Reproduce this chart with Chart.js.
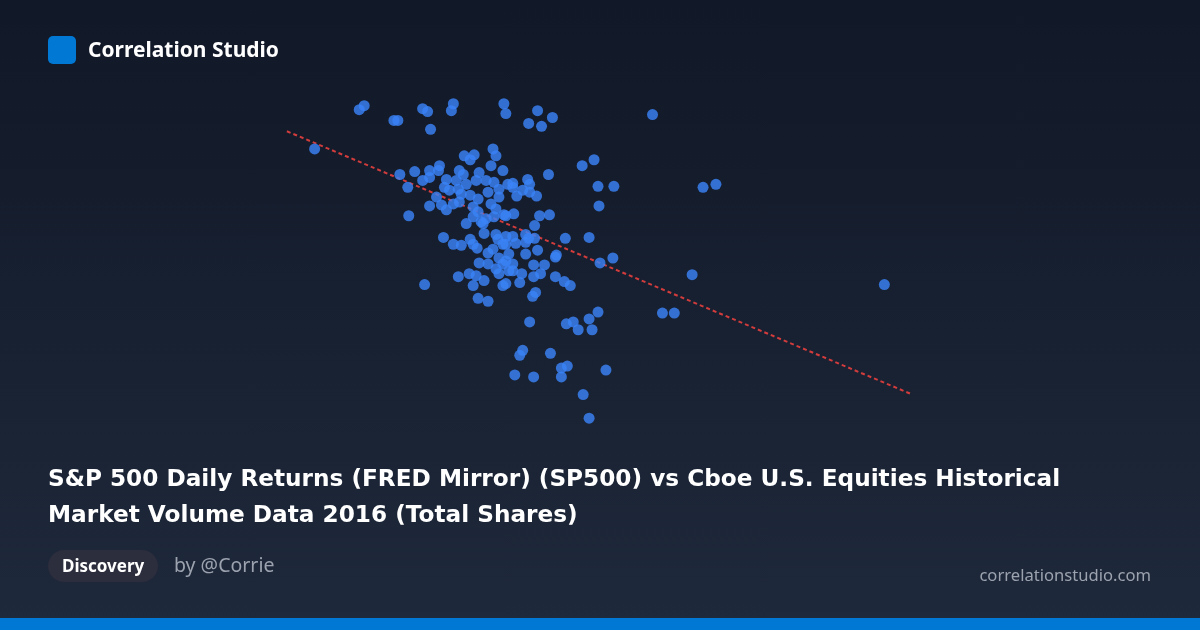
<!DOCTYPE html>
<html>
<head>
<meta charset="utf-8">
<script src="https://cdn.jsdelivr.net/npm/chart.js@4.4.1/dist/chart.umd.min.js"></script>
<style>
  html, body { margin: 0; padding: 0; }
  body {
    width: 1200px; height: 630px; overflow: hidden; position: relative;
    background: linear-gradient(180deg, #111827 0%, #1e293b 100%);
    font-family: "Noto Sans", "Open Sans", sans-serif;
  }
  #wrap { position: absolute; left: 0; top: 0; width: 1200px; height: 630px; z-index: 1; }
  .logo { position: absolute; left: 48px; top: 36px; width: 28px; height: 28px; border-radius: 5px; background: #0078d4; z-index: 2; }
  .brand { position: absolute; left: 88px; top: 34px; font-size: 21px; font-weight: 700; color: #ffffff; z-index: 2; line-height: 30px; }
  .title { position: absolute; left: 48px; top: 460px; width: 1100px; font-family: "DejaVu Sans", sans-serif; font-size: 23.2px; font-weight: 700; color: #ffffff; line-height: 36px; z-index: 2; }
  .pill { position: absolute; left: 48px; top: 550px; height: 32px; padding: 0 14px; border-radius: 16px; background: #2c2d3d; color: #fff; font-size: 17px; font-weight: 700; line-height: 32px; z-index: 2; }
  .by { position: absolute; left: 174px; top: 551px; font-size: 19.5px; color: #9ca3af; line-height: 28px; z-index: 2; }
  .site { position: absolute; right: 49px; top: 562px; font-size: 16.6px; color: #9ca3af; line-height: 26px; z-index: 2; }
  .bar { position: absolute; left: 0; bottom: 0; width: 1200px; height: 12px; background: #0078d4; z-index: 2; }
</style>
</head>
<body>
<div id="wrap"><canvas id="c" width="1200" height="630"></canvas></div>
<div class="logo"></div>
<div class="brand">Correlation Studio</div>
<div class="title">S&amp;P 500 Daily Returns (FRED Mirror) (SP500) vs Cboe U.S. Equities Historical Market Volume Data 2016 (Total Shares)</div>
<div class="pill">Discovery</div>
<div class="by">by @Corrie</div>
<div class="site">correlationstudio.com</div>
<div class="bar"></div>
<script>
// S&P 500 daily return (%)
const sp500Returns = [
  -2.43,-2.38,-2.08,-2.04,-1.79,-1.74,-1.71,-1.50,-1.48,-0.97,-0.95,-0.63,-0.48,-0.72,-0.59,0.53,-2.88,
  -2.02,-1.87,-1.94,-1.93,-1.79,-1.72,-1.72,-1.62,-1.63,-1.55,-1.57,-1.37,-1.27,-1.31,-1.08,-1.05,-1.10,
  -1.42,-1.38,-1.45,-1.35,-1.43,-1.22,-1.25,-1.15,-1.07,-0.98,-0.93,-1.02,-1.02,-1.13,-1.23,-1.31,-1.40,
  -1.52,-1.65,-1.72,-1.60,-1.55,-1.48,-1.42,-1.28,-1.23,-1.10,-1.05,-0.97,-1.15,-1.28,-1.20,-1.07,-1.35,-1.18,
  -0.52,-0.18,-0.06,-0.02,0.14,-0.01,-0.88,-0.88,-0.73,-0.71,-0.78,-0.71,-0.64,-0.84,-0.87,-0.61,-0.51,-0.95,-0.66,
  -0.35,-0.11,-0.44,-0.45,-0.56,-0.60,-0.45,-0.36,-0.30,0.00,0.13,0.93,1.04,1.17,2.87,0.63,0.75,
  -0.98,-0.81,-0.68,-0.65,-1.13,-0.71,-0.34,-0.27,-0.22,-0.11,-0.02,-0.08,-0.78,-0.81,-0.50,-0.39,-0.33,-0.39,
  -0.86,-0.67,0.06,-0.17,-0.11,
  -0.88,-0.95,-0.75,-0.72,-0.66,-0.85,-0.75,-0.95,-0.63,-0.75,-0.92,-0.88,-0.95,-0.67,-0.88,-0.67,-0.79,-0.95,
  -1.58,-1.48,-1.40,-1.31,-1.28,-1.24,-1.17,-1.05,-1.03,-0.98,-1.08,-1.13,-1.22,-1.13,-1.02,-1.05,-0.98,-1.02,
  -1.17,-1.43,-1.32,-1.25,-1.28,-1.77,-1.23,-0.92
];
// Cboe U.S. equities total volume (billions of shares)
const totalShares = [
  5.94,5.98,5.83,5.83,5.95,5.92,5.74,5.93,6.00,6.00,5.90,5.93,5.86,5.80,5.77,5.89,5.54,
  5.28,5.31,5.15,4.86,5.22,5.32,5.25,5.37,5.32,5.23,5.15,5.47,5.48,5.43,5.54,5.47,5.37,
  5.32,5.28,5.22,5.18,5.13,5.30,5.22,5.22,5.20,5.32,5.18,5.13,5.05,5.10,5.03,5.07,5.08,
  5.12,5.05,4.96,4.97,4.92,4.98,5.00,4.95,4.90,4.98,4.93,4.87,4.83,4.85,4.80,4.85,4.78,4.78,
  5.28,5.37,5.43,5.16,5.16,4.96,5.19,5.15,5.23,5.18,5.12,5.10,5.06,5.06,4.88,4.86,4.87,4.86,4.76,
  4.63,4.64,4.46,4.44,4.36,4.27,4.24,4.19,4.15,4.38,4.43,4.26,5.15,5.18,4.16,3.87,3.87,
  4.15,4.18,4.04,4.08,3.99,3.78,3.76,3.78,3.70,3.81,3.88,3.70,3.49,3.44,3.46,3.31,3.33,3.22,
  3.24,3.22,3.29,3.04,2.80,
  4.65,4.65,4.67,4.63,4.63,4.58,4.59,4.57,4.51,4.47,4.47,4.37,4.40,4.36,4.30,4.24,4.27,4.17,
  4.64,4.57,4.56,4.62,4.57,4.53,4.68,4.67,4.62,4.57,4.52,4.48,4.38,4.37,4.43,4.32,4.37,4.27,
  4.20,4.24,4.27,4.25,4.15,4.16,4.02,4.30
];
// Fitted trend line endpoints (return %, volume)
const trendX = [-3.16, 3.13];
const trendY = [5.72, 3.05];

const points = sp500Returns.map((x, i) => ({ x: x, y: totalShares[i] }));
const trend = trendX.map((x, i) => ({ x: x, y: trendY[i] }));

new Chart(document.getElementById('c'), {
  type: 'scatter',
  data: {
    datasets: [
      {
        label: 'Daily observations',
        data: points,
        backgroundColor: 'rgba(59,130,246,0.82)',
        borderWidth: 0,
        pointRadius: 5.5,
        order: 1
      },
      {
        type: 'line',
        label: 'Trend',
        data: trend,
        borderColor: '#d23c3c',
        borderWidth: 2,
        borderDash: [4, 3],
        pointRadius: 0,
        fill: false,
        order: 2
      }
    ]
  },
  options: {
    responsive: false,
    animation: false,
    layout: { padding: 0 },
    plugins: { legend: { display: false }, tooltip: { enabled: false } },
    scales: {
      x: { type: 'linear', min: -6, max: 6, display: false },
      y: { type: 'linear', min: 0.7, max: 7.0, display: false }
    }
  }
});
</script>
</body>
</html>
